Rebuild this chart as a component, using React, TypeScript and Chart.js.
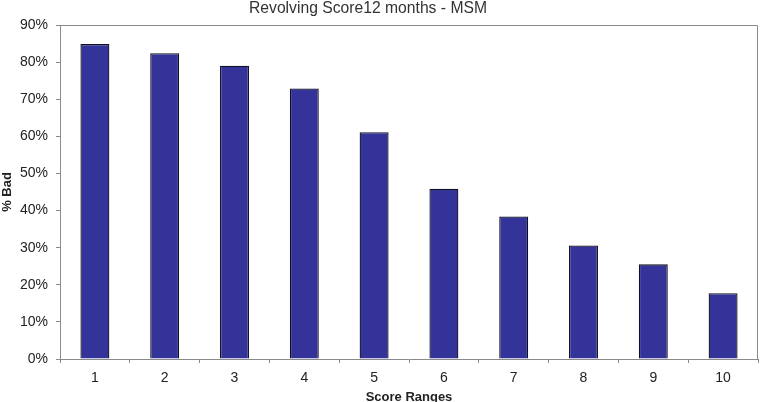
import React, { useEffect, useRef } from "react";
import { Chart, registerables } from "chart.js";

Chart.register(...registerables);

const chartTitle = "Revolving Score12 months - MSM";
const xAxisTitle = "Score Ranges";
const yAxisTitle = "% Bad";
const categories = ["1", "2", "3", "4", "5", "6", "7", "8", "9", "10"];
const badRates = [84.9, 82.4, 79.0, 72.9, 61.1, 45.9, 38.4, 30.6, 25.5, 17.7];
const yMin = 0;
const yMax = 90;
const yStep = 10;

const FONT = "'Liberation Sans', Arial, sans-serif";
const AXIS_COLOR = "#8a8a8a";
const TEXT_COLOR = "#222222";

const plotBorder = {
  id: "plotBorder",
  beforeDatasetsDraw(chart: any) {
    const { ctx, chartArea } = chart;
    const { left, right, top, bottom } = chartArea;
    ctx.save();
    ctx.strokeStyle = AXIS_COLOR;
    ctx.lineWidth = 1;
    ctx.beginPath();
    ctx.moveTo(Math.round(left) + 0.5, Math.round(top) + 0.5);
    ctx.lineTo(Math.round(right) - 0.5, Math.round(top) + 0.5);
    ctx.lineTo(Math.round(right) - 0.5, Math.round(bottom) + 0.5);
    ctx.stroke();
    ctx.restore();
  },
};

const titleText = {
  id: "titleText",
  afterDraw(chart: any) {
    const { ctx } = chart;
    ctx.save();
    ctx.fillStyle = "#333333";
    ctx.font = `normal 15.7px ${FONT}`;
    ctx.textAlign = "center";
    ctx.textBaseline = "alphabetic";
    ctx.fillText(chartTitle, chart.width / 2 - 15, 12.5);
    ctx.restore();
  },
};

export default function App() {
  const canvasRef = useRef<HTMLCanvasElement | null>(null);

  useEffect(() => {
    if (!canvasRef.current) return;
    const chart = new Chart(canvasRef.current, {
      type: "bar",
      data: {
        labels: categories,
        datasets: [
          {
            label: yAxisTitle,
            data: badRates,
            backgroundColor: "#333399",
            borderColor: "#111122",
            borderWidth: 1.3,
            categoryPercentage: 1,
            barPercentage: 0.415,
          },
        ],
      },
      options: {
        responsive: false,
        animation: false,
        devicePixelRatio: 1,
        layout: { padding: { left: 0, right: 8, top: 25, bottom: 0 } },
        plugins: {
          legend: { display: false },
          tooltip: { enabled: false },
          title: { display: false },
        },
        scales: {
          x: {
            grid: {
              display: true,
              drawOnChartArea: false,
              drawTicks: true,
              tickLength: 4,
              color: AXIS_COLOR,
              offset: true,
            },
            border: { display: true, color: AXIS_COLOR },
            ticks: {
              color: TEXT_COLOR,
              font: { family: FONT, size: 14 },
              padding: 7,
              maxRotation: 0,
            },
            title: {
              display: true,
              text: xAxisTitle,
              color: TEXT_COLOR,
              font: { family: FONT, size: 13, weight: "bold", lineHeight: 1.2 },
              padding: { top: 0, bottom: -3 },
            },
            afterFit(scale: any) {
              scale.height = 43;
            },
          },
          y: {
            min: yMin,
            max: yMax,
            grid: {
              display: true,
              drawOnChartArea: false,
              drawTicks: true,
              tickLength: 4,
              color: AXIS_COLOR,
            },
            border: { display: true, color: AXIS_COLOR },
            ticks: {
              stepSize: yStep,
              color: TEXT_COLOR,
              font: { family: FONT, size: 14 },
              padding: 8,
              callback: (v: any) => `${v}%`,
            },
            title: {
              display: true,
              text: yAxisTitle,
              color: TEXT_COLOR,
              font: { family: FONT, size: 13, weight: "bold", lineHeight: 1.2 },
              padding: { top: 0, bottom: 0 },
            },
            afterFit(scale: any) {
              scale.width = 60;
            },
          },
        },
      },
      plugins: [plotBorder, titleText],
    });
    return () => chart.destroy();
  }, []);

  return (
    <div style={{ position: "fixed", left: 0, top: 0, width: 766, height: 402, background: "#ffffff" }}>
      <canvas ref={canvasRef} width={766} height={402} style={{ display: "block" }} />
    </div>
  );
}
